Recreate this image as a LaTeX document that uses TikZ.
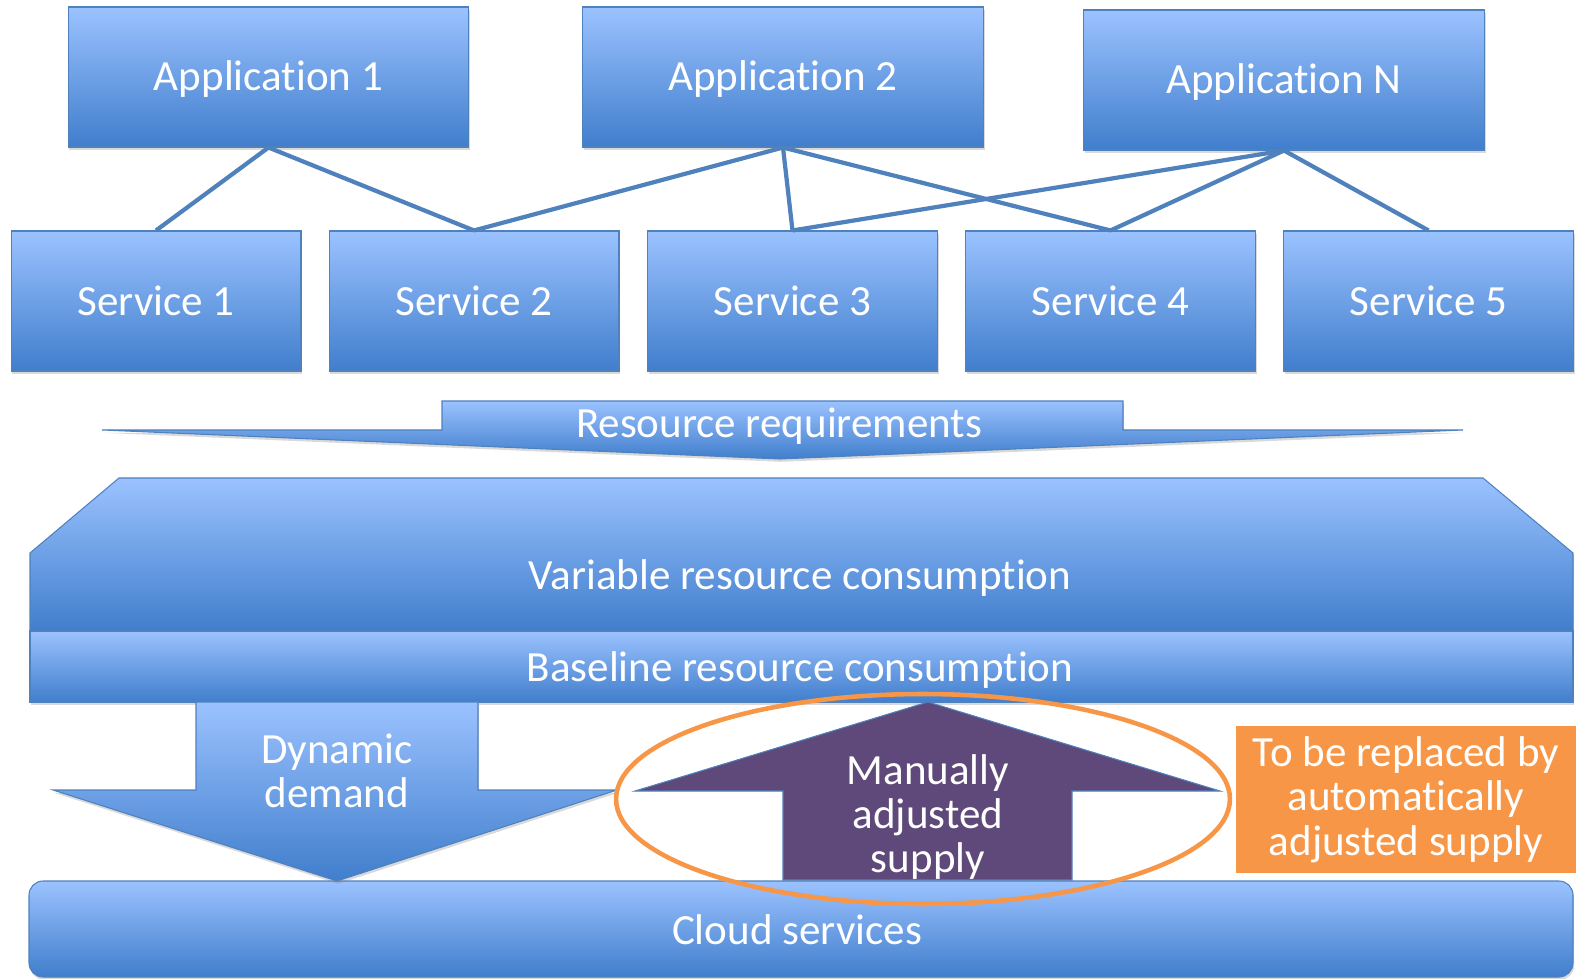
\documentclass[tikz,border=0pt]{standalone}
\usepackage{fontspec}
\setmainfont[Ligatures={NoCommon}]{Carlito}
\usepackage{tikz}
\usepackage{xcolor}
\usetikzlibrary{shadows}

\definecolor{azulclaro}{RGB}{155,194,255}
\definecolor{azuloscuro}{RGB}{64,126,204}
\definecolor{borde}{RGB}{79,129,189}
\definecolor{morado}{RGB}{95,73,122}
\definecolor{naranja}{RGB}{247,150,70}

\begin{document}
\begin{tikzpicture} %Demanda y oferta de recursos
  [
    x=0.02cm, y=-0.02cm,
    % Estilos para no repetir codigo
    forma/.style={draw=borde, line width=0.6pt, top color=azulclaro, bottom color=azuloscuro,
      drop shadow={shadow xshift=0.6pt, shadow yshift=-1.6pt, opacity=0.3}},
    texto/.style={text=white, align=center, font=\fontsize{24.5}{24.8}\selectfont},
    app/.style={forma, texto, rectangle, minimum width=8.02cm, minimum height=2.8cm, inner sep=0pt,
      text height=20pt, text depth=4.8pt},
    serv/.style={forma, texto, rectangle, minimum width=5.8cm, minimum height=2.8cm, inner sep=0pt},
    conector/.style={draw=borde, line width=2.4pt}
  ]
  \useasboundingbox (0,0) rectangle (1576,979);

  \node[app] (app1) at (268.5,77) {Application 1};
  \node[app] (app2) at (783,77) {Application 2};
  \node[app] (appn) at (1284,80) {Application N};
  \node[serv] (s1) at (156,301) {Service 1};
  \node[serv] (s2) at (474,301) {Service 2};
  \node[serv] (s3) at (792.5,301) {Service 3};
  \node[serv] (s4) at (1110.5,301) {Service 4};
  \node[serv] (s5) at (1428.5,301) {Service 5};
  \draw[conector] (app1.south) -- (s1.north);
  \draw[conector] (app1.south) -- (s2.north);
  \draw[conector] (app2.south) -- (s2.north);
  \draw[conector] (app2.south) -- (s3.north);
  \draw[conector] (app2.south) -- (s4.north);
  \draw[conector] (appn.south) -- (s3.north);
  \draw[conector] (appn.south) -- (s4.north);
  \draw[conector] (appn.south) -- (s5.north);

  % flecha de requerimientos
  \draw[forma] (442,401) -- (1123,401) -- (1123,430) -- (1463,430) -- (780,459)
    -- (102,430) -- (442,430) -- cycle;
  \node[texto] (req) at (779,426) {Resource requirements};

  % consumo
  \draw[forma] (30,553) -- (119,478) -- (1483,478) -- (1573,553) -- (1573,631) -- (30,631) -- cycle;
  \node[texto] (var) at (800,578) {Variable resource consumption};
  \draw[forma] (30,631) rectangle (1573,702);
  \node[texto] (base) at (800,670) {Baseline resource consumption};

  % nube
  \draw[forma, rounded corners=8pt] (29,881) rectangle (1573,977);
  \node[texto] (nube) at (797,930) {Cloud services};

  % demanda dinamica
  \draw[forma] (196,702) -- (478,702) -- (478,790) -- (617,790) -- (337,881)
    -- (53,790) -- (196,790) -- cycle;
  \node[texto] (dem) at (337,771) {Dynamic\\demand};

  % oferta manual
  \draw[draw=borde, fill=morado, line width=0.6pt] (928,702) -- (1220,791) -- (1072,791)
    -- (1072,880) -- (783,880) -- (783,791) -- (635,791) -- cycle;
  \node[texto] (man) at (928,817) {Manually\\adjusted\\supply};
  \draw[naranja, line width=2.6pt] (923,799) ellipse [x radius=6.14cm, y radius=2.1cm];

  \node[texto, fill=naranja, minimum width=6.8cm, minimum height=2.94cm, inner sep=0pt]
    (auto) at (1406,799.5) {\raisebox{-5pt}{\parbox{6.8cm}{\centering\baselineskip=25.3pt
      To be replaced by\\automatically\\adjusted supply}}};
\end{tikzpicture}
\end{document}
